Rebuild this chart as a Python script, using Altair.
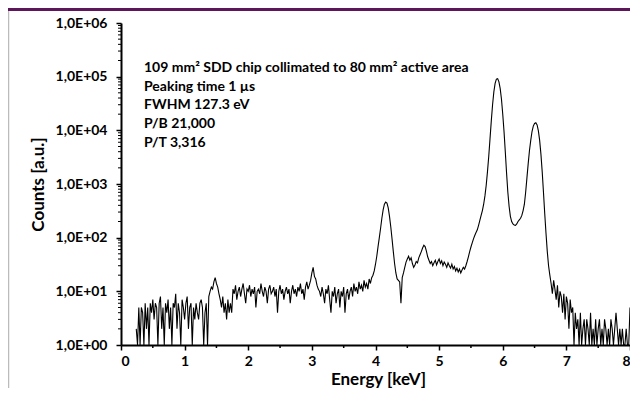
import altair as alt
import pandas as pd

# ---- data: X-ray spectrum (Mn K lines), counts per 20 eV channel ----
STEP = 0.02  # keV per channel

SEG_A_START = 0.24   # low-energy noise
SEG_A = [2, 1, 5, 1, 5, 4, 1, 6, 2, 5, 1, 6, 4, 7, 3, 6, 5, 1, 6, 8,
         2, 5, 1, 6, 4, 7, 2, 5, 1, 6, 5, 9, 2, 6, 4, 1, 7, 5, 3, 6,
         8, 2, 5, 6, 1, 5, 3, 6, 4, 3, 6, 7, 5, 1, 4, 6, 1, 8]
SEG_B_START = 1.40   # small bump + dip
SEG_B = [10, 12, 11, 15, 18, 14, 12, 9, 7, 5, 8, 4, 6, 3, 7, 4, 6, 4]
SEG_C_START = 1.76   # flat background
SEG_C = [11, 9, 13, 7, 10, 12, 8, 11, 14, 9, 6, 11, 10, 13, 8, 11, 9, 12, 5, 10,
         11, 9, 14, 10, 8, 12, 10, 6, 11, 13, 9, 10, 12, 8, 11, 4, 10, 13, 9, 11,
         7, 10, 12, 9, 11, 6, 10, 13, 9, 11, 8, 12, 10, 14, 9, 11, 7, 12, 15, 11, 13]
SEG_D_START = 2.98   # bump near 3 keV
SEG_D = [16, 22, 28, 19, 17, 13, 11]
SEG_E_START = 3.12
SEG_E = [10, 8, 12, 9, 6, 11, 9, 13, 7, 4, 10, 8, 12, 6, 9, 11, 5, 10, 8, 12,
         4, 9, 11, 7, 10]
SEG_F_START = 3.62
SEG_F = [12, 8, 14, 10, 12, 9, 15, 11, 13, 10, 16, 12, 14, 11, 17, 14, 18]
SEG_G_START = 3.96   # escape peak
SEG_G = [20, 24, 32, 45, 68, 100, 150, 230, 330, 420, 460, 440, 360, 250, 160,
         95, 55, 33, 22, 17, 16, 15]
SEG_H_START = 4.40
SEG_H = [6, 18, 22, 28, 35, 40, 45, 38, 42, 33, 28, 31, 36, 34, 42, 48, 55, 64,
         72, 68, 56, 44, 38, 33, 36, 30]
SEG_I_START = 4.92   # shelf
SEG_I = [34, 38, 31, 36, 40, 33, 37, 30, 35, 32, 28, 34, 30, 27, 32, 26, 29, 24,
         27, 23, 26, 22, 25, 28]
SEG_J_START = 5.40   # Mn K-alpha / K-beta
SEG_J = [26, 30, 36, 44, 55, 67, 80, 95, 110, 125,
         140, 170, 210, 260, 320, 420, 600, 950, 1700, 3300,
         7000, 15000, 30000, 52000, 75000, 90000, 92000, 80000, 60000, 38000,
         20000, 9500, 4000, 1600, 700, 380, 250, 200, 180, 172,
         170, 180, 200, 215, 230, 260, 320, 420, 700, 1300,
         2400, 4200, 6500, 9500, 12000, 13400, 13800, 12600, 9800, 6500,
         3600, 1700, 700, 280, 120, 55, 30, 20]
SEG_K_START = 6.76   # high-energy tail
SEG_K = [14, 9, 16, 11, 7, 13, 5, 10, 8, 4, 9, 3, 8, 6, 2, 7, 4, 5, 1, 4,
         2, 3, 1, 4, 1, 2, 3, 1, 3, 2, 1, 4, 1, 2, 1, 3, 1, 2, 3, 1,
         2, 1, 3, 2, 1, 2, 1, 3, 2, 1, 2, 4, 2, 1, 2, 1, 2, 1, 1, 2,
         1, 1, 5]

X_TICKS = [0, 1, 2, 3, 4, 5, 6, 7, 8]
X_MINOR = [0.5, 1.5, 2.5, 3.5, 4.5, 5.5, 6.5, 7.5]
Y_TICKS = [1, 10, 100, 1000, 10000, 100000, 1000000]
Y_MINOR = [m * d for d in [1, 10, 100, 1000, 10000, 100000] for m in range(2, 10)]

NOTE = ["109 mm² SDD chip collimated to 80 mm² active area",
        "Peaking time 1 µs",
        "FWHM 127.3 eV",
        "P/B 21,000",
        "P/T 3,316"]

segments = [(SEG_A_START, SEG_A), (SEG_B_START, SEG_B), (SEG_C_START, SEG_C),
            (SEG_D_START, SEG_D), (SEG_E_START, SEG_E), (SEG_F_START, SEG_F),
            (SEG_G_START, SEG_G), (SEG_H_START, SEG_H), (SEG_I_START, SEG_I),
            (SEG_J_START, SEG_J), (SEG_K_START, SEG_K)]
rows = []
for start, vals in segments:
    for i, v in enumerate(vals):
        rows.append({"E": round(start + i * STEP, 2), "C": v})
df = pd.DataFrame(rows)

W, H = 509, 322
FONT = "Lato"

xs = alt.Scale(domain=[0, 8], nice=False, zero=False)
ys = alt.Scale(type="log", domain=[1, 1000000], nice=False)

X_AXIS = alt.Axis(values=X_TICKS, title="Energy [keV]", format="d",
                  titleX=257, titleY=34, titleBaseline="middle", titleAlign="center")
Y_AXIS = alt.Axis(values=Y_TICKS, title="Counts [a.u.]",
                  labelExpr="'1,0E+0' + round(log(datum.value) / LN10)",
                  titleX=-83, titleY=H / 2, titleAngle=270, titleBaseline="middle",
                  titleAlign="center")

line = alt.Chart(df).mark_line(color="black", strokeWidth=1.1, clip=True).encode(
    x=alt.X("E:Q", scale=xs, axis=X_AXIS),
    y=alt.Y("C:Q", scale=ys, axis=Y_AXIS),
)

ymin = alt.Chart(pd.DataFrame({"C": Y_MINOR})).mark_rule(
    color="black", strokeWidth=1).encode(
    y=alt.Y("C:Q", scale=ys, axis=Y_AXIS),
    x=alt.value(-3), x2=alt.value(0))

xmin = alt.Chart(pd.DataFrame({"E": X_MINOR})).mark_rule(
    color="black", strokeWidth=1.5).encode(
    x=alt.X("E:Q", scale=xs, axis=X_AXIS),
    y=alt.value(H), y2=alt.value(H + 3))

note = alt.Chart(pd.DataFrame({"t": ["\n".join(NOTE)]})).mark_text(
    align="left", baseline="middle", font=FONT, fontSize=14, fontWeight="bold",
    lineBreak="\n", lineHeight=18.7, color="black").encode(
    text="t:N", x=alt.value(23), y=alt.value(45))

banner = alt.Chart(pd.DataFrame({"a": [0]})).mark_rect(color="#5C1659").encode(
    x=alt.value(-113), x2=alt.value(W), y=alt.value(-15), y2=alt.value(-12))

edge = alt.Chart(pd.DataFrame({"a": [0]})).mark_rule(
    color="#BBBBBB", strokeWidth=1.5).encode(
    x=alt.value(-112.5), y=alt.value(-12), y2=alt.value(H + 43))

chart = alt.layer(banner, edge, ymin, xmin, line, note).properties(
    width=W, height=H,
    padding={"left": 113, "top": 15, "right": 0, "bottom": 43},
    autosize=alt.AutoSizeParams(type="none"),
    background="white",
).configure_view(strokeWidth=0).configure_axis(
    grid=False, domainColor="black", domainWidth=2, tickColor="black",
    tickWidth=1.5, tickSize=5, labelFont=FONT, labelFontWeight="bold",
    labelFontSize=14, labelColor="black", titleFont=FONT, titleFontWeight="bold",
    titleFontSize=17, titleColor="black",
).configure_axisY(labelPadding=9).configure_axisX(labelPadding=4)

chart.save("out.html", embed_options={"renderer": "svg", "actions": False})
